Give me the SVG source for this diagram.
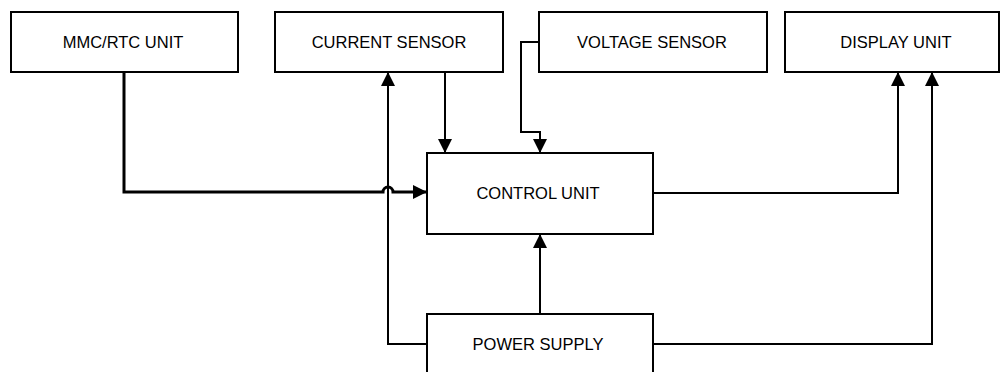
<svg xmlns="http://www.w3.org/2000/svg" width="1001" height="372" viewBox="0 0 1001 372">
<style>
.box{fill:#fff;stroke:#000;stroke-width:2}
.lbl{font-family:"Liberation Sans",Arial,sans-serif;font-size:16.5px;fill:#000;text-anchor:middle}
.c{fill:none;stroke:#000;stroke-width:2}
.thick{stroke-width:3}
</style>
<defs>
<marker id="arr" markerUnits="userSpaceOnUse" markerWidth="14" markerHeight="14" viewBox="0 0 14 14" refX="14" refY="7" orient="auto">
<path d="M0,0 L14,7 L0,14 Z" fill="#000"/>
</marker>
</defs>
<g id="connectors">
<path class="c thick" d="M124,72 V192 H383 A5,5 0 0 1 393,192 H427" marker-end="url(#arr)"/>
<path class="c" d="M445,72 V153" marker-end="url(#arr)"/>
<path class="c" d="M539,42 H521 V132 H540 V153" marker-end="url(#arr)"/>
<path class="c" d="M653,193 H898 V72" marker-end="url(#arr)"/>
<path class="c" d="M540,314 V234" marker-end="url(#arr)"/>
<path class="c" d="M427,344 H388 V72" marker-end="url(#arr)"/>
<path class="c" d="M653,344 H932 V72" marker-end="url(#arr)"/>
</g>
<g id="mmc"><rect class="box" x="11" y="12" width="227" height="60"/><text class="lbl" x="123" y="48">MMC/RTC UNIT</text></g>
<g id="current"><rect class="box" x="275" y="12" width="228" height="60"/><text class="lbl" x="389" y="48">CURRENT SENSOR</text></g>
<g id="voltage"><rect class="box" x="539" y="12" width="228" height="60"/><text class="lbl" x="652" y="48">VOLTAGE SENSOR</text></g>
<g id="display"><rect class="box" x="785" y="12" width="214" height="60"/><text class="lbl" x="896" y="48">DISPLAY UNIT</text></g>
<g id="control"><rect class="box" x="427" y="153" width="226" height="81"/><text class="lbl" x="538" y="199">CONTROL UNIT</text></g>
<g id="power"><rect class="box" x="427" y="314" width="226" height="70"/><text class="lbl" x="538" y="350">POWER SUPPLY</text></g>
</svg>
